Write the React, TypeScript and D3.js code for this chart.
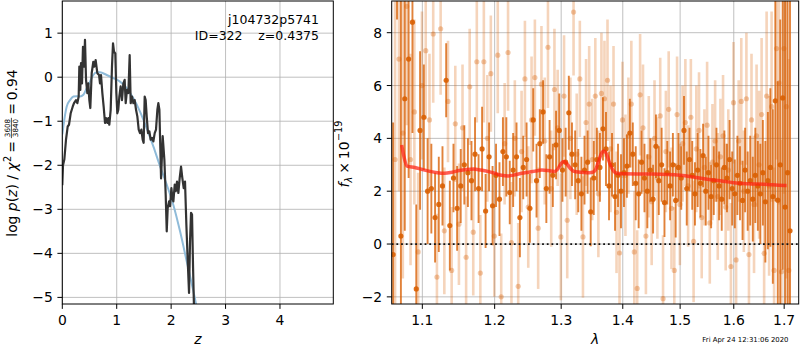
import React, { useEffect, useRef } from 'react';
import * as d3 from 'd3';

// ---------- Left panel: p(z) ----------
const PZ_Z = [0.000,0.013,0.037,0.068,0.099,0.123,0.154,0.191,0.215,0.252,0.276,0.301,0.313,0.331,0.344,0.362,0.380,0.399,0.417,0.436,0.460,0.479,0.497,0.515,0.540,0.570,0.589,0.613,0.644,0.675,0.693,0.711,0.736,0.760,0.785,0.803,0.828,0.846,0.864,0.889,0.913,0.932,0.950,0.974,0.993,1.011,1.029,1.048,1.072,1.097,1.122,1.146,1.165,1.189,1.214,1.238,1.257,1.281,1.306,1.330,1.355,1.379,1.404,1.428,1.453,1.477,1.495,1.514,1.532,1.551,1.575,1.600,1.624,1.649,1.673,1.698,1.722,1.747,1.765,1.784,1.815,1.845,1.876,1.900,1.919,1.937,1.962,1.980,2.005,2.023,2.041,2.066,2.084,2.108,2.133,2.157,2.182,2.206,2.231,2.255,2.280,2.305,2.329,2.347,2.366,2.384,2.403,2.421];
const PZ_LOGP = [-2.45,-2.0,-1.87,-1.42,-1.12,-1.08,-0.82,-0.67,-0.59,-0.52,-0.59,-0.44,0.24,-0.29,0.32,-0.14,0.69,0.24,0.85,-0.06,-0.36,-0.14,-0.52,-0.70,0.09,0.35,0.24,0.39,0.09,0.05,-0.14,0.05,-0.36,-0.67,-1.04,-0.93,-1.04,-0.93,-1.08,-0.74,0.24,0.77,0.58,0.54,-0.36,-0.82,-0.74,-0.44,-0.21,-0.52,-0.14,-0.06,-0.59,-0.29,-0.36,0.50,-0.59,-0.44,-0.59,-0.52,-0.74,-0.89,-1.19,-1.27,-1.19,-1.42,-1.49,-0.44,-0.52,-0.89,-1.27,-1.23,-1.42,-1.38,-1.46,-1.27,-1.19,-0.74,-0.59,-0.74,-2.30,-1.34,-1.88,-2.67,-3.50,-2.97,-2.82,-2.93,-2.52,-2.74,-2.82,-2.44,-2.59,-2.37,-2.63,-2.29,-2.03,-2.29,-2.52,-2.37,-3.35,-4.18,-4.90,-3.73,-3.08,-3.12,-4.33,-5.30];
const PRIOR_Z = [0.0,0.019,0.050,0.080,0.142,0.203,0.264,0.325,0.387,0.448,0.509,0.570,0.632,0.693,0.816,0.938,1.061,1.183,1.306,1.428,1.551,1.673,1.796,1.919,2.041,2.164,2.286,2.409,2.483];
const PRIOR_LOGP = [-1.3,-1.12,-0.86,-0.67,-0.52,-0.44,-0.43,-0.44,-0.40,-0.25,-0.10,0.05,0.11,0.11,0.05,-0.02,-0.10,-0.25,-0.48,-0.78,-1.16,-1.57,-2.02,-2.44,-2.90,-3.50,-4.18,-4.86,-5.30];
const LEFT_XTICKS = [0, 1, 2, 3, 4];
const LEFT_YTICKS = [-5, -4, -3, -2, -1, 0, 1];
const OBJ_NAME = 'j104732p5741';
const OBJ_ID = 'ID=322';
const OBJ_Z = 'z=0.4375';
const CHI_NUM = '3608';
const CHI_DEN = '3840';
const CHI_VAL = '0.94';

// ---------- Right panel: spectrum ----------
const DARK_WAVE = [1.062,1.067,1.072,1.077,1.082,1.087,1.092,1.097,1.102,1.107,1.112,1.117,1.122,1.127,1.132,1.137,1.142,1.147,1.152,1.157,1.162,1.167,1.172,1.177,1.182,1.187,1.192,1.197,1.202,1.207,1.212,1.217,1.222,1.227,1.232,1.237,1.242,1.247,1.252,1.257,1.262,1.267,1.272,1.277,1.282,1.287,1.292,1.297,1.302,1.307,1.312,1.317,1.322,1.327,1.332,1.337,1.342,1.347,1.352,1.357,1.362,1.367,1.372,1.377,1.382,1.387,1.392,1.397,1.402,1.407,1.412,1.417,1.422,1.427,1.432,1.437,1.442,1.447,1.452,1.457,1.462,1.467,1.472,1.477,1.482,1.487,1.492,1.497,1.502,1.507,1.512,1.517,1.522,1.527,1.532,1.537,1.542,1.547,1.552,1.557,1.562,1.567,1.572,1.577,1.582,1.587,1.592,1.597,1.602,1.607,1.612,1.617,1.622,1.627,1.632,1.637,1.642,1.647,1.652,1.657,1.662,1.667,1.672,1.677,1.682,1.687,1.692,1.697,1.702,1.707,1.712];
const DARK_FLUX = [
  -0.4, 11.5, 0.3, 5.5, 7.0, 8.4, -1.7, 4.3, 4.8, 2.0,
  2.1, 1.0, 1.5, 2.2, 6.2, 0.7, 2.5, 1.35, 2.2, 3.0,
  2.7, 2.4, 3.4, 2.1, 3.6, 1.25, 3.3, 1.45, 2.6, 1.7,
  3.5, 3.3, 1.95, 2.8, 3.3, 1.0, 2.9, 3.2, 1.35, 4.7,
  2.4, 3.8, 5.0, 2.1, 3.3, 2.6, 3.75, 4.3, 2.8, 3.1,
  4.97, 3.4, 3.0, 2.4, 1.9, 2.8, 3.1, 1.22, 2.5, 3.2,
  2.9, 4.36, 3.6, 2.2, 3.0, 1.8, 2.6, 2.0, 2.7, 2.95,
  4.2, 3.4, 2.3, 1.9, 3.1, 2.5, 2.0, 2.8, 1.7, 3.7,
  2.4, 3.0, 1.57, 2.7, 2.2, 3.0, 1.65, 2.9, 2.5, 4.3,
  2.1, 3.2, 2.6, 1.9, 2.8, 2.3, 3.35, 2.0, 2.7, 1.8,
  2.4, 3.0, 2.2, 1.7, 2.9, 2.5, 3.2, 2.1, 1.9, 2.6,
  2.3, 1.65, 2.8, 2.0, 2.4, 1.7, 2.6, 2.2, 1.9, 2.7,
  1.6, 2.4, 2.9, 1.8, 5.42, 1.66, 3.0, 5.53, 1.4, 2.7,
  0.5];
const DARK_ERR = [
  5.0, 3.0, 9.0, 5.0, 4.5, 4.2, 3.2, 3.0, 2.0, 2.0,
  1.7, 1.7, 1.8, 1.5, 1.4, 1.7, 1.3, 1.6, 1.4, 1.5,
  1.3, 1.5, 1.4, 1.3, 1.6, 1.4, 1.3, 1.5, 1.2, 1.4,
  1.3, 1.5, 1.2, 1.4, 1.3, 1.5, 1.2, 1.4, 1.3, 1.2,
  1.4, 1.3, 1.2, 1.3, 1.4, 1.2, 1.3, 1.4, 1.2, 1.3,
  1.4, 1.2, 1.3, 1.2, 1.4, 1.3, 1.2, 1.3, 1.4, 1.2,
  1.3, 1.2, 1.4, 1.3, 1.2, 1.3, 1.2, 1.4, 1.3, 1.2,
  1.3, 1.2, 1.4, 1.3, 1.2, 1.3, 1.4, 1.2, 1.3, 1.2,
  1.3, 1.4, 1.3, 1.2, 1.3, 1.2, 1.4, 1.3, 1.2, 1.3,
  1.4, 1.2, 1.3, 1.2, 1.4, 1.3, 1.2, 1.3, 1.4, 1.2,
  1.3, 1.4, 1.3, 1.2, 1.4, 1.3, 1.5, 1.4, 1.3, 1.5,
  1.4, 1.5, 1.6, 1.5, 1.7, 1.6, 1.8, 1.7, 1.9, 2.0,
  2.3, 2.6, 3.0, 3.3, 3.8, 4.5, 5.5, 6.5, 8.0, 9.0,
  10.0];
const LIGHT_WAVE = [1.0645,1.0695,1.0745,1.0795,1.0845,1.0895,1.0945,1.0995,1.1045,1.1095,1.1145,1.1195,1.1245,1.1295,1.1345,1.1395,1.1445,1.1495,1.1545,1.1595,1.1645,1.1695,1.1745,1.1795,1.1845,1.1895,1.1945,1.1995,1.2045,1.2095,1.2145,1.2195,1.2245,1.2295,1.2345,1.2395,1.2445,1.2495,1.2545,1.2595,1.2645,1.2695,1.2745,1.2795,1.2845,1.2895,1.2945,1.2995,1.3045,1.3095,1.3145,1.3195,1.3245,1.3295,1.3345,1.3395,1.3445,1.3495,1.3545,1.3595,1.3645,1.3695,1.3745,1.3795,1.3845,1.3895,1.3945,1.3995,1.4045,1.4095,1.4145,1.4195,1.4245,1.4295,1.4345,1.4395,1.4445,1.4495,1.4545,1.4595,1.4645,1.4695,1.4745,1.4795,1.4845,1.4895,1.4945,1.4995,1.5045,1.5095,1.5145,1.5195,1.5245,1.5295,1.5345,1.5395,1.5445,1.5495,1.5545,1.5595,1.5645,1.5695,1.5745,1.5795,1.5845,1.5895,1.5945,1.5995,1.6045,1.6095,1.6145,1.6195,1.6245,1.6295,1.6345,1.6395,1.6445,1.6495,1.6545,1.6595,1.6645,1.6695,1.6745,1.6795,1.6845,1.6895,1.6945,1.6995,1.7045,1.7095];
const LIGHT_FLUX = [
  3.2, 7.0, 4.2, 9.0, 3.2, 5.0, -0.3, 6.0, 7.32, 4.7,
  7.95, -1.25, 8.15, 0.5, 5.4, -1.0, 4.55, 0.75, 4.4, -0.5,
  5.95, 0.45, 6.9, -1.1, 6.9, 4.0, 6.45, 0.3, 7.15, -2.0,
  3.8, 7.25, 0.05, 4.0, -1.6, 3.5, 6.25, 1.4, 4.7, 6.3,
  0.6, 6.05, 3.9, 7.45, 2.1, 5.85, 4.4, 0.27, 5.6, 0.9,
  4.0, 8.78, 3.4, 6.25, 0.27, 4.6, 5.3, 3.2, 5.6, 1.9,
  5.7, 5.5, 6.2, 3.6, 5.3, 1.2, -0.34, 4.7, 2.6, 4.1,
  5.3, -0.3, -1.68, 5.65, 4.4, 0.3, 3.3, 1.6, 4.0, 2.5,
  4.85, -2.07, 3.5, 5.1, 1.35, -1.0, 4.9, 1.5, 3.8, 4.6,
  2.2, 4.8, 0.1, 3.6, 4.3, 1.0, 2.9, 4.5, 0.8, 3.1,
  3.9, 1.8, 3.3, 4.1, 1.4, 2.8, -0.85, 5.35, -0.6, 3.9,
  5.4, 2.0, 5.5, -0.4, 4.7, 1.5, 4.1, 3.0, 4.9, -0.35,
  5.6, 2.2, 5.2, -1.0, 7.4, 6.1, -1.05, 7.4, 5.2, -1.0];
const LIGHT_ERR = [
  6.0, 5.0, 5.5, 4.5, 4.0, 3.5, 3.0, 2.8, 2.6, 2.5,
  2.6, 2.4, 2.5, 2.4, 2.3, 2.4, 2.2, 2.3, 2.4, 2.3,
  2.2, 2.4, 2.3, 2.2, 2.3, 2.4, 2.2, 2.3, 2.2, 2.4,
  2.3, 2.2, 2.3, 2.2, 2.4, 2.3, 2.2, 2.3, 2.4, 2.2,
  2.3, 2.2, 2.4, 2.3, 2.2, 2.3, 2.2, 2.4, 2.3, 2.2,
  2.3, 2.4, 2.3, 2.2, 2.3, 2.4, 2.2, 2.3, 2.2, 2.4,
  2.3, 2.2, 2.3, 2.4, 2.2, 2.3, 2.4, 2.2, 2.3, 2.2,
  2.4, 2.3, 2.2, 2.3, 2.4, 2.2, 2.3, 2.4, 2.2, 2.3,
  2.2, 2.4, 2.3, 2.2, 2.3, 2.4, 2.2, 2.3, 2.2, 2.4,
  2.3, 2.2, 2.3, 2.4, 2.2, 2.3, 2.2, 2.4, 2.3, 2.2,
  2.3, 2.4, 2.2, 2.3, 2.4, 2.3, 2.4, 2.3, 2.4, 2.3,
  2.4, 2.3, 2.5, 2.4, 2.5, 2.6, 2.7, 2.8, 2.9, 3.0,
  3.2, 3.4, 3.6, 3.9, 4.2, 4.6, 5.0, 5.5, 6.5, 8.0];
const MODEL_WAVE = [1.073,1.076,1.080,1.090,1.100,1.110,1.120,1.130,1.140,1.150,1.160,1.170,1.180,1.190,1.200,1.210,1.220,1.230,1.240,1.250,1.260,1.270,1.280,1.290,1.295,1.300,1.305,1.310,1.315,1.320,1.330,1.340,1.350,1.355,1.360,1.365,1.368,1.372,1.376,1.380,1.385,1.390,1.400,1.450,1.500,1.520,1.550,1.580,1.600,1.630,1.660,1.700,1.705];
const MODEL_FLUX = [3.75,3.3,2.95,2.9,2.82,2.75,2.7,2.68,2.72,2.78,2.82,2.84,2.8,2.75,2.68,2.6,2.58,2.62,2.68,2.72,2.76,2.8,2.78,2.75,2.85,3.05,3.12,3.0,2.85,2.75,2.72,2.7,2.72,2.82,3.15,3.45,3.52,3.45,3.2,2.95,2.75,2.68,2.66,2.65,2.6,2.55,2.45,2.38,2.32,2.28,2.26,2.22,2.22];
const RIGHT_XTICKS = [1.1, 1.2, 1.3, 1.4, 1.5, 1.6, 1.7];
const RIGHT_YTICKS = [-2, 0, 2, 4, 6, 8];
const TIMESTAMP = 'Fri Apr 24 12:31:06 2020';

const FONT = 'DejaVu Sans, sans-serif';
const TICK_FS = 13.9;
const ORANGE = '#d95f02';

export default function App() {
  const ref = useRef<SVGSVGElement>(null);

  useEffect(() => {
    const svg = d3.select(ref.current);
    svg.selectAll('*').remove();

    const L = { x0: 62.3, x1: 333.3, y0: 1, y1: 304 };
    const R = { x0: 391.7, x1: 798.7, y0: 1, y1: 304 };

    const xL = d3.scaleLinear().domain([0, 4.98]).range([L.x0, L.x1]);
    const yL = d3.scaleLinear().domain([-5.15, 1.73]).range([L.y1, L.y0]);
    const xR = d3.scaleLog().domain([1.0602, 1.730]).range([R.x0, R.x1]);
    const yR = d3.scaleLinear().domain([-2.27, 9.2]).range([R.y1, R.y0]);

    const defs = svg.append('defs');
    defs.append('clipPath').attr('id', 'clipL').append('rect')
      .attr('x', L.x0).attr('y', L.y0).attr('width', L.x1 - L.x0).attr('height', L.y1 - L.y0);
    defs.append('clipPath').attr('id', 'clipR').append('rect')
      .attr('x', R.x0).attr('y', R.y0).attr('width', R.x1 - R.x0).attr('height', R.y1 - R.y0);

    const grid = (area: any, x: any, y: any, xt: number[], yt: number[]) => {
      const g = svg.append('g').attr('stroke', '#b0b0b0').attr('stroke-width', 0.8);
      xt.forEach(t => g.append('line').attr('x1', x(t)).attr('x2', x(t)).attr('y1', area.y0).attr('y2', area.y1));
      yt.forEach(t => g.append('line').attr('y1', y(t)).attr('y2', y(t)).attr('x1', area.x0).attr('x2', area.x1));
    };

    const axes = (area: any, x: any, y: any, xt: number[], yt: number[], xf: (v: number) => string, yf: (v: number) => string) => {
      const g = svg.append('g');
      g.append('rect').attr('x', area.x0).attr('y', area.y0).attr('width', area.x1 - area.x0).attr('height', area.y1 - area.y0)
        .attr('fill', 'none').attr('stroke', '#000').attr('stroke-width', 1);
      xt.forEach(t => {
        g.append('line').attr('x1', x(t)).attr('x2', x(t)).attr('y1', area.y1).attr('y2', area.y1 + 4.9).attr('stroke', '#000').attr('stroke-width', 1);
        g.append('text').attr('x', x(t)).attr('y', area.y1 + 21).attr('text-anchor', 'middle')
          .attr('font-family', FONT).attr('font-size', TICK_FS).attr('fill', '#000').text(xf(t));
      });
      yt.forEach(t => {
        g.append('line').attr('y1', y(t)).attr('y2', y(t)).attr('x1', area.x0 - 4.9).attr('x2', area.x0).attr('stroke', '#000').attr('stroke-width', 1);
        g.append('text').attr('x', area.x0 - 9.5).attr('y', y(t)).attr('dy', '0.36em').attr('text-anchor', 'end')
          .attr('font-family', FONT).attr('font-size', TICK_FS).attr('fill', '#000').text(yf(t));
      });
    };

    const minus = (v: number) => (v < 0 ? '\u2212' + Math.abs(v) : String(v));

    // ---------------- Left panel ----------------
    grid(L, xL, yL, LEFT_XTICKS, LEFT_YTICKS);
    const gl = svg.append('g').attr('clip-path', 'url(#clipL)');
    const linePrior = d3.line<number>().x((_, i) => xL(PRIOR_Z[i])).y(d => yL(d)).curve(d3.curveMonotoneX);
    gl.append('path').attr('d', linePrior(PRIOR_LOGP) as string).attr('fill', 'none')
      .attr('stroke', '#8fbbd9').attr('stroke-width', 2);
    const linePz = d3.line<number>().x((_, i) => xL(PZ_Z[i])).y(d => yL(d));
    gl.append('path').attr('d', linePz(PZ_LOGP) as string).attr('fill', 'none')
      .attr('stroke', '#333333').attr('stroke-width', 2.2).attr('stroke-linejoin', 'round');
    axes(L, xL, yL, LEFT_XTICKS, LEFT_YTICKS, v => String(v), minus);

    // annotation
    svg.append('text').attr('x', 319).attr('y', 24).attr('text-anchor', 'end').attr('font-family', FONT).attr('font-size', 12.5).text(OBJ_NAME);
    svg.append('text').attr('x', 319).attr('y', 39.5).attr('text-anchor', 'end').attr('font-family', FONT).attr('font-size', 12.5).text(OBJ_Z);
    svg.append('text').attr('x', 242.5).attr('y', 39.5).attr('text-anchor', 'end').attr('font-family', FONT).attr('font-size', 12.5).text(OBJ_ID);

    // x label
    svg.append('text').attr('x', (L.x0 + L.x1) / 2).attr('y', 344).attr('text-anchor', 'middle')
      .attr('font-family', FONT).attr('font-style', 'italic').attr('font-size', TICK_FS).text('z');

    const SP = 4.4;
    // y label (rotated, built piece by piece)
    {
      const g = svg.append('g');
      let x = 0;
      const piece = (txt: string, opts: any = {}) => {
        const t = g.append('text').attr('x', x).attr('y', opts.dy || 0)
          .attr('font-family', FONT).attr('font-size', opts.fs || TICK_FS)
          .attr('font-style', opts.it ? 'italic' : 'normal').text(txt);
        const w = (t.node() as SVGTextElement).getComputedTextLength();
        x += w + (opts.after || 0);
        return w;
      };
      piece('log', { after: SP });
      piece('p', { it: true });
      piece('(');
      piece('z', { it: true });
      piece(')', { after: SP });
      piece('/', { after: SP });
      piece('\u03c7', { it: true, after: 0.5 });
      piece('2', { fs: 9.7, dy: -6, after: 3 });
      piece('=', { after: 3 });
      // fraction
      const fs = 7.2;
      const tmp1 = g.append('text').attr('font-family', FONT).attr('font-size', fs).text(CHI_NUM);
      const w1 = (tmp1.node() as SVGTextElement).getComputedTextLength();
      tmp1.remove();
      const fw = w1 + 2;
      g.append('text').attr('x', x + fw / 2).attr('y', -6.6).attr('text-anchor', 'middle').attr('font-family', FONT).attr('font-size', fs).text(CHI_NUM);
      g.append('line').attr('x1', x).attr('x2', x + fw).attr('y1', -5.1).attr('y2', -5.1).attr('stroke', '#000').attr('stroke-width', 0.7);
      g.append('text').attr('x', x + fw / 2).attr('y', 1.0).attr('text-anchor', 'middle').attr('font-family', FONT).attr('font-size', fs).text(CHI_DEN);
      x += fw + 3;
      piece('=', { after: 3 });
      piece(CHI_VAL);
      g.attr('transform', `translate(16.5, ${153 + x / 2}) rotate(-90)`);
    }

    // ---------------- Right panel ----------------
    grid(R, xR, yR, RIGHT_XTICKS, RIGHT_YTICKS);
    const gr = svg.append('g').attr('clip-path', 'url(#clipR)');

    const lightBars = gr.append('g').attr('stroke', ORANGE).attr('stroke-opacity', 0.27).attr('stroke-width', 2.6);
    LIGHT_WAVE.forEach((w, i) => {
      lightBars.append('line').attr('x1', xR(w)).attr('x2', xR(w))
        .attr('y1', yR(LIGHT_FLUX[i] - LIGHT_ERR[i])).attr('y2', yR(LIGHT_FLUX[i] + LIGHT_ERR[i]));
    });
    const lightPts = gr.append('g').attr('fill', ORANGE).attr('fill-opacity', 0.33);
    LIGHT_WAVE.forEach((w, i) => {
      lightPts.append('circle').attr('cx', xR(w)).attr('cy', yR(LIGHT_FLUX[i])).attr('r', 2.6);
    });

    const darkBars = gr.append('g').attr('stroke', ORANGE).attr('stroke-opacity', 0.78).attr('stroke-width', 1.9);
    DARK_WAVE.forEach((w, i) => {
      darkBars.append('line').attr('x1', xR(w)).attr('x2', xR(w))
        .attr('y1', yR(DARK_FLUX[i] - DARK_ERR[i])).attr('y2', yR(DARK_FLUX[i] + DARK_ERR[i]));
    });
    const darkPts = gr.append('g').attr('fill', ORANGE).attr('fill-opacity', 0.9);
    DARK_WAVE.forEach((w, i) => {
      darkPts.append('circle').attr('cx', xR(w)).attr('cy', yR(DARK_FLUX[i])).attr('r', 2.6);
    });

    gr.append('line').attr('x1', R.x0).attr('x2', R.x1).attr('y1', yR(0)).attr('y2', yR(0))
      .attr('stroke', '#111').attr('stroke-width', 1.8).attr('stroke-dasharray', '1.8,2.9');

    const lineModel = d3.line<number>().x((_, i) => xR(MODEL_WAVE[i])).y(d => yR(d)).curve(d3.curveMonotoneX);
    gr.append('path').attr('d', lineModel(MODEL_FLUX) as string).attr('fill', 'none')
      .attr('stroke', '#ff2010').attr('stroke-opacity', 0.72).attr('stroke-width', 3.5).attr('stroke-linejoin', 'round');

    axes(R, xR, yR, RIGHT_XTICKS, RIGHT_YTICKS, d3.format('.1f'), minus);

    svg.append('text').attr('x', (R.x0 + R.x1) / 2).attr('y', 344).attr('text-anchor', 'middle')
      .attr('font-family', FONT).attr('font-style', 'italic').attr('font-size', TICK_FS).text('\u03bb');

    // right y label
    {
      const g = svg.append('g');
      let x = 0;
      const piece = (txt: string, opts: any = {}) => {
        const t = g.append('text').attr('x', x).attr('y', opts.dy || 0)
          .attr('font-family', FONT).attr('font-size', opts.fs || TICK_FS)
          .attr('font-style', opts.it ? 'italic' : 'normal').text(txt);
        const w = (t.node() as SVGTextElement).getComputedTextLength();
        x += w + (opts.after || 0);
      };
      piece('f', { it: true });
      piece('\u03bb', { it: true, fs: 9.7, dy: 3, after: 3 });
      piece('\u00d7', { after: 3 });
      piece('10', { after: 0.5 });
      piece('\u221219', { fs: 9.7, dy: -6.5 });
      g.attr('transform', `translate(348.5, ${154 + x / 2}) rotate(-90)`);
    }

    svg.append('text').attr('x', 788.5).attr('y', 342).attr('text-anchor', 'end')
      .attr('font-family', FONT).attr('font-size', 6.9).text(TIMESTAMP);
  }, []);

  return (
    <svg ref={ref} width={800} height={350}
      style={{ position: 'absolute', left: 0, top: 0, background: '#ffffff' }} />
  );
}
